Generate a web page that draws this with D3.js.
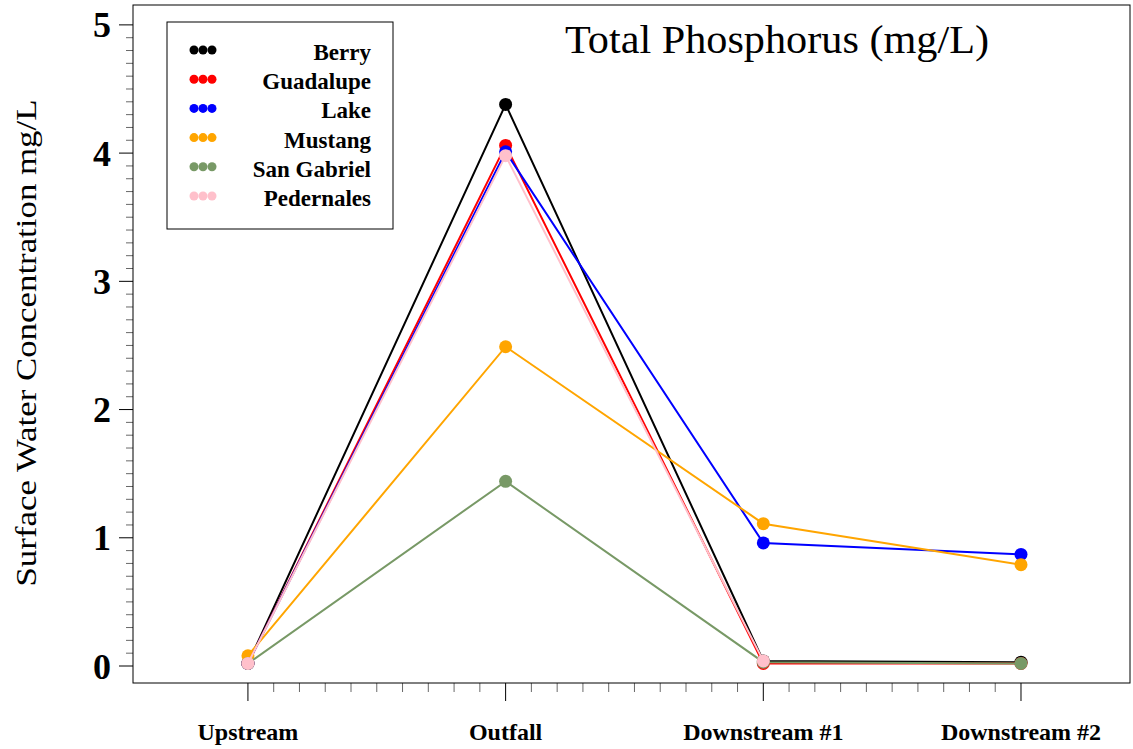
<!DOCTYPE html>
<html>
<head>
<meta charset="utf-8">
<script src="https://cdn.jsdelivr.net/npm/d3@7"></script>
<style>
  html, body { margin: 0; padding: 0; background: #fff; }
  svg { display: block; }
  text { font-family: "Liberation Serif", "DejaVu Serif", serif; }
</style>
</head>
<body>
<svg id="chart" width="1133" height="749"></svg>
<script>
// Sampling stations along each stream
const stations = ["Upstream", "Outfall", "Downstream #1", "Downstream #2"];

// Total phosphorus (mg/L) per site, one value per station (null = not sampled)
const berry      = [0.02, 4.38, 0.04, 0.03];
const guadalupe  = [0.02, 4.06, 0.02, 0.02];
const lake       = [0.02, 4.01, 0.96, 0.87];
const mustang    = [0.08, 2.49, 1.11, 0.79];
const sanGabriel = [0.02, 1.44, 0.03, 0.02];
const pedernales = [0.02, 3.98, 0.04, null];

const siteNames  = ["Berry", "Guadalupe", "Lake", "Mustang", "San Gabriel", "Pedernales"];
const siteColors = ["#000000", "#ff0000", "#0000ff", "#ffa500", "#789966", "#ffc0cb"];
const siteValues = [berry, guadalupe, lake, mustang, sanGabriel, pedernales];

const yTicks = [0, 1, 2, 3, 4, 5];

const svg = d3.select("#chart");

const plot = { left: 133, right: 1130, top: 5, bottom: 683 };

// Station index (1-based) to pixel; axis runs a little past the first and last stations
const x = d3.scaleLinear().domain([0.554, 4.423]).range([plot.left, plot.right]);
const y = d3.scaleLinear().domain([-0.1325, 5.155]).range([plot.bottom, plot.top]);

// Frame
svg.append("rect")
  .attr("x", plot.left).attr("y", plot.top)
  .attr("width", plot.right - plot.left).attr("height", plot.bottom - plot.top)
  .attr("fill", "none").attr("stroke", "#000").attr("stroke-width", 1);

// Y axis: major ticks at whole units, minor every 0.1
const yMinor = d3.range(0, 50.5, 1).map(d => d / 10);
const yAxis = svg.append("g").attr("transform", `translate(${plot.left},0)`);
yAxis.selectAll("line.minor").data(yMinor).join("line")
  .attr("x1", d => Number.isInteger(d) ? -14 : -7).attr("x2", 0)
  .attr("y1", d => y(d)).attr("y2", d => y(d))
  .attr("stroke", "#000").attr("stroke-width", d => Number.isInteger(d) ? 1 : 0.8)
  .attr("stroke-opacity", d => Number.isInteger(d) ? 1 : 0.75);
yAxis.selectAll("text").data(yTicks).join("text")
  .attr("x", -22).attr("y", d => y(d))
  .attr("dy", "0.35em")
  .attr("text-anchor", "end")
  .attr("font-weight", "bold").attr("font-size", 36)
  .text(d => d);

// Y axis title
svg.append("text")
  .attr("transform", "translate(36,343) rotate(-90)")
  .attr("text-anchor", "middle")
  .attr("font-size", 30)
  .attr("textLength", 487).attr("lengthAdjust", "spacingAndGlyphs")
  .text("Surface Water Concentration mg/L");

// X axis: ticks below the frame, minor every 0.1 station
const xMinor = d3.range(10, 40.5, 1).map(d => d / 10);
const xAxis = svg.append("g").attr("transform", `translate(0,${plot.bottom})`);
xAxis.selectAll("line").data(xMinor).join("line")
  .attr("x1", d => x(d)).attr("x2", d => x(d))
  .attr("y1", 0).attr("y2", d => Number.isInteger(d) ? 18 : 9)
  .attr("stroke", "#000").attr("stroke-width", d => Number.isInteger(d) ? 1 : 0.8)
  .attr("stroke-opacity", d => Number.isInteger(d) ? 1 : 0.75);
xAxis.selectAll("text").data(stations).join("text")
  .attr("x", (d, i) => x(i + 1)).attr("y", 57)
  .attr("text-anchor", "middle")
  .attr("font-weight", "bold").attr("font-size", 24)
  .text(d => d);

// Title
svg.append("text")
  .attr("x", 777).attr("y", 53)
  .attr("text-anchor", "middle")
  .attr("font-size", 40)
  .attr("textLength", 424).attr("lengthAdjust", "spacingAndGlyphs")
  .text("Total Phosphorus (mg/L)");

// Series: lines then points, in site order so later sites sit on top
const line = d3.line()
  .defined(d => d.v !== null)
  .x(d => x(d.i + 1)).y(d => y(d.v));

siteValues.forEach((vals, s) => {
  const pts = vals.map((v, i) => ({ i, v }));
  const g = svg.append("g");
  g.append("path")
    .datum(pts)
    .attr("d", line)
    .attr("fill", "none")
    .attr("stroke", siteColors[s])
    .attr("stroke-width", 2);
  g.selectAll("circle").data(pts.filter(d => d.v !== null)).join("circle")
    .attr("cx", d => x(d.i + 1)).attr("cy", d => y(d.v))
    .attr("r", 6.5)
    .attr("fill", siteColors[s]);
});

// Legend
const legend = svg.append("g");
legend.append("rect")
  .attr("x", 167).attr("y", 22).attr("width", 226).attr("height", 207)
  .attr("fill", "#fff").attr("stroke", "#000").attr("stroke-width", 1);
siteNames.forEach((name, s) => {
  const cy = 50 + s * 29.2;
  [194, 203, 212].forEach(cx => {
    legend.append("circle").attr("cx", cx).attr("cy", cy).attr("r", 4.5).attr("fill", siteColors[s]);
  });
  legend.append("text")
    .attr("x", 371).attr("y", cy + 10)
    .attr("text-anchor", "end")
    .attr("font-weight", "bold").attr("font-size", 23)
    .text(name);
});
</script>
</body>
</html>
